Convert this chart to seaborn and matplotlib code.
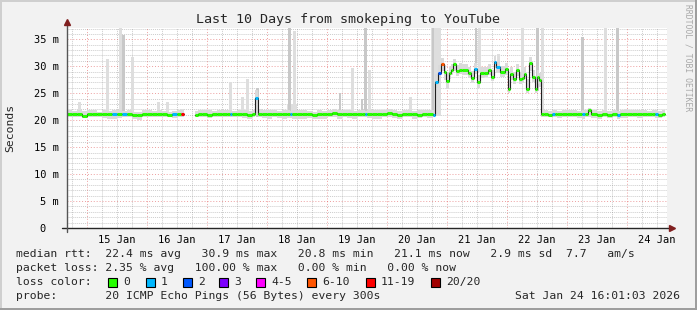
import numpy as np
import pandas as pd
import matplotlib
matplotlib.use("Agg")
import matplotlib.pyplot as plt
import seaborn as sns
from matplotlib.patches import Rectangle

nan = float("nan")

# ---------------- data ----------------
day_labels = ["15 Jan", "16 Jan", "17 Jan", "18 Jan", "19 Jan",
              "20 Jan", "21 Jan", "22 Jan", "23 Jan", "24 Jan"]
y_labels = ["0  ", "5 m", "10 m", "15 m", "20 m", "25 m", "30 m", "35 m"]
loss_labels = ["0", "1", "2", "3", "4-5", "6-10", "11-19", "20/20"]

# hours since 14 Jan 16:01, median rtt (ms), loss class index
med_t = [0, 2, 4, 6, 8, 10, 12, 14, 16, 18, 20, 22, 24, 26, 28, 30, 32, 34, 36, 38, 40, 42, 44, 45.6, 46.8,
         51.2, 52.4, 54, 56, 58, 60, 62, 64, 65.2, 66, 68, 70, 72, 74, 75.2, 76.4, 78, 80, 82, 84,
         86, 88, 89.2, 90, 92, 94, 96, 98, 100, 102, 104, 106, 108, 110, 112, 114, 116, 118, 119.2, 120,
         122, 124, 126, 128, 130, 132, 134, 136, 138, 140, 142, 144,
         146.4, 147.2, 148.4, 149.6, 150.8, 151.6, 152.8, 153.6, 154.4, 155.6,
         156.8, 158.0, 160.4, 161.6, 162.8, 164.0, 165.2, 166.8, 168.4, 169.6,
         170.8, 171.6, 173.2, 175.2, 176.4, 177.2, 178.4, 179.6, 180.8, 182.0,
         182.8, 183.6, 184.8, 186.0, 187.2, 188.0, 188.8, 189.6,
         190.8, 192.4, 194, 195.2, 196, 198, 200, 202, 204, 206,
         207.2, 208.4, 209.6, 212, 214, 216, 218, 220, 221.2, 224,
         226, 228, 230, 232, 234, 235.2, 236.4, 238, 239]
med_v = [21.2, 21.1, 21.1, 20.8, 21.1, 21.2, 21.2, 21.1, 21.2, 21.2, 21.1, 21.1, 21.2, 21.0, 20.9, 21.1, 21.1,
         21.2, 21.1, 21.1, 21.0, 21.1, 21.1, 21.1, nan,
         20.9, 21.1, 21.2, 21.0, 21.1, 21.2, 21.1, 21.1, 21.1, 21.1, 21.2, 21.1, 21.0, 21.1, 24.1, 21.2, 21.1,
         21.1, 21.2, 21.1, 21.1, 21.1, 21.1, 21.1, 21.2, 21.1, 21.1, 21.0, 21.1, 21.1, 21.2, 21.4, 21.1, 21.1,
         21.2, 21.1, 21.1, 21.1, 21.1, 21.1, 21.1, 21.2, 21.2, 21.3, 21.2, 21.0, 21.1, 21.1, 21.1, 21.0,
         21.1, 21.1,
         21.0, 27.0, 28.8, 30.5, 28.9, 27.3, 28.7, 29.3, 30.4, 29.1,
         29.4, 29.3, 28.7, 27.8, 29.5, 27.0, 28.7, 28.8, 29.3, 28.0,
         30.8, 29.8, 29.0, 29.5, 25.7, 28.6, 27.6, 29.3, 27.7, 27.8,
         28.6, 25.7, 30.6, 28.1, 25.8, 28.0, 27.4, 21.1,
         21.1, 21.0, 21.1, 21.1, 21.1, 21.1, 21.2, 21.1, 21.1, 21.1,
         21.1, 21.8, 21.1, 21.0, 21.1, 21.0, 21.1, 21.0, 21.1, 21.1,
         21.2, 21.1, 21.1, 21.1, 21.1, 21.1, 21.0, 21.1, nan]
med_loss = [0, 0, 0, 0, 0, 0, 0, 0, 0, 1, 0, 1, 0, 0, 0, 0, 0, 0, 0, 0, 0, 1, 0, 6, 0,
            0, 0, 0, 0, 0, 0, 0, 0, 1, 0, 0, 0, 0, 0, 1, 0, 0, 0, 0, 0,
            0, 0, 1, 0, 0, 0, 0, 0, 0, 0, 0, 0, 0, 0, 0, 0, 0, 0, 1, 0,
            0, 0, 0, 0, 0, 0, 0, 0, 0, 0, 0, 0,
            1, 1, 2, 5, 0, 0, 0, 0, 0, 0,
            0, 0, 0, 0, 1, 0, 0, 0, 0, 0,
            1, 1, 0, 0, 0, 0, 0, 0, 0, 0,
            0, 0, 0, 0, 0, 0, 0, 0,
            0, 0, 1, 0, 0, 0, 0, 0, 0, 1,
            0, 0, 0, 0, 0, 0, 0, 1, 0, 0,
            0, 0, 0, 0, 0, 1, 0, 0, 0]
smoke_lo = [20.6, 20.5, 20.6, 20.4, 20.6, 20.6, 20.5, 20.4, 20.3, 20.2, 20.4, 20.5, 20.6, 20.2, 20.1, 20.5, 20.6,
            20.5, 20.6, 20.5, 20.5, 20.4, 20.5, 20.6, nan,
            20.6, 20.5, 20.6, 20.4, 20.5, 20.6, 20.5, 20.6, 20.5, 20.6, 20.5, 20.4, 20.3, 20.5, 21.0, 20.5, 20.4,
            20.2, 20.5, 20.4, 20.3, 20.5, 20.4, 20.3, 20.2, 20.2, 20.4, 20.3, 20.2, 20.3, 20.5, 20.6, 20.3, 20.5,
            20.4, 20.3, 20.5, 20.6, 20.5, 20.4, 20.2, 20.3, 20.5, 20.6, 20.4, 20.3, 20.5, 20.5, 20.3, 20.4,
            20.5, 20.4,
            20.5, 26.0, 27.8, 29.2, 27.5, 25.8, 27.6, 28.3, 29.2, 28.2,
            28.5, 28.4, 27.9, 26.9, 28.6, 26.0, 27.8, 28.0, 28.4, 27.2,
            29.6, 28.8, 28.1, 28.4, 25.0, 27.5, 26.7, 28.2, 26.8, 26.9,
            27.6, 25.0, 29.2, 27.0, 25.0, 26.8, 26.2, 20.5,
            20.6, 20.5, 20.6, 20.5, 20.4, 20.5, 20.6, 20.5, 20.4, 20.3,
            20.5, 20.6, 20.4, 20.3, 20.5, 20.4, 20.5, 20.3, 20.4, 20.5,
            20.5, 20.4, 20.5, 20.6, 20.5, 20.4, 20.4, 20.5, nan]
smoke_hi = [21.8, 21.7, 21.9, 21.7, 21.8, 21.8, 21.6, 21.8, 21.7, 21.8, 21.9, 21.7, 21.8, 21.6, 21.6, 21.8, 21.9,
            21.7, 21.8, 21.7, 21.6, 21.7, 21.8, 21.9, nan,
            21.7, 21.8, 21.9, 21.8, 21.7, 21.8, 21.8, 21.9, 21.8, 21.7, 21.9, 21.8, 21.7, 21.8, 25.6, 22.0, 21.8,
            21.9, 21.8, 21.7, 21.8, 21.9, 21.7, 21.8, 21.9, 21.8, 21.7, 21.6, 21.8, 21.7, 21.9, 22.0, 21.8, 21.8,
            21.9, 21.7, 21.8, 21.8, 21.7, 21.8, 21.9, 21.8, 21.9, 22.0, 21.9, 21.7, 21.8, 21.8, 21.7, 21.8,
            21.8, 21.9,
            21.8, 28.5, 30.2, 31.5, 30.2, 28.9, 29.8, 30.4, 31.4, 30.2,
            30.6, 30.5, 29.8, 29.2, 30.7, 28.4, 29.8, 29.9, 30.4, 29.4,
            31.9, 31.0, 30.1, 30.6, 27.4, 29.8, 28.9, 30.5, 29.0, 29.1,
            29.8, 27.6, 31.8, 29.4, 27.7, 29.3, 28.7, 22.0,
            21.8, 21.7, 21.8, 21.8, 21.7, 21.8, 21.9, 21.8, 21.7, 21.8,
            21.8, 22.2, 21.8, 21.7, 21.8, 21.7, 21.8, 21.7, 21.8, 21.8,
            21.9, 21.8, 21.8, 21.7, 21.8, 21.8, 21.7, 21.8, nan]

# outlier ping "smoke" spikes
spike_t = [4.4, 9.6, 15.6, 20.8, 22.0, 25.6, 36.0, 39.6, 45.6, 64.8, 69.6, 71.6, 75.6, 88.0, 88.4, 90.4,
           108.8, 113.6, 117.6, 118.8, 120.4, 136.8, 145.6, 146.0, 163.0, 164.4, 172.0, 181.6, 187.6, 189.6,
           205.6, 214.8, 219.6, 222.8]
spike_w = [1.2, 1.6, 1.2, 1.2, 1.0, 1.2, 1.2, 1.2, 1.2, 1.2, 1.2, 1.2, 1.2, 4.0, 1.2, 1.2,
           0.8, 1.2, 0.8, 1.2, 1.2, 1.2, 4.0, 0.8, 0.8, 1.2, 1.2, 1.2, 1.2, 1.2,
           1.2, 1.2, 1.2, 1.6]
spike_bot = [20.6, 20.6, 20.6, 20.6, 20.6, 20.6, 20.6, 20.6, 20.6, 20.6, 20.6, 20.6, 20.6, 20.4, 20.6, 20.6,
             20.6, 20.6, 20.6, 20.6, 20.6, 20.6, 20.8, 20.8, 29.2, 29.0, 29.5, 28.5, 25.5, 21.0,
             20.6, 20.6, 20.6, 20.6]
spike_top = [23.3, 21.9, 31.4, 37.5, 35.8, 31.7, 23.3, 23.3, 22.0, 27.0, 24.3, 27.6, 26.0, 23.0, 37.5, 36.5,
             25.0, 29.6, 24.0, 37.5, 29.3, 24.3, 37.5, 37.5, 37.5, 37.5, 32.2, 37.5, 37.5, 37.5,
             35.5, 37.5, 37.5, 22.0]
spike_dark = [0, 0, 0, 0, 1, 0, 0, 0, 0, 0, 0, 0, 1, 0, 1, 0,
              1, 0, 1, 1, 0, 0, 0, 1, 1, 0, 0, 0, 1, 0,
              1, 0, 1, 0]

# ---------------- style ----------------
sns.set_style("white")
MONO = ["DejaVu Sans Mono"]
plt.rcParams["font.family"] = MONO

loss_colors = ["#26ff00", "#00b8ff", "#0059ff", "#7e00ff", "#ff00ff", "#ff5500", "#ff0000", "#a10000"]
W, H = 697, 310
fig = plt.figure(figsize=(W / 100, H / 100), dpi=100, facecolor="#f2f2f2")
ax = fig.add_axes([67 / W, 1 - 228 / H, 600 / W, 200 / H])
ax.set_facecolor("white")
ax.set_xlim(0, 240)
ax.set_ylim(0, 37.1)
for s in ax.spines.values():
    s.set_visible(False)

# grid
midnights = [8 + 24 * k for k in range(10)]
minor_x = [h for h in range(2, 240, 6) if h not in midnights]
minor_y = [v for v in range(1, 38) if v % 5]
gcol = (0.56, 0.56, 0.56, 0.45)
mcol = (0.87, 0.31, 0.31, 0.55)
for h in minor_x:
    ax.axvline(h, color=gcol, lw=0.7, ls=(0, (1, 1)), zorder=0)
for v in minor_y:
    ax.axhline(v, color=gcol, lw=0.7, ls=(0, (1, 1)), zorder=0)
for h in midnights:
    ax.axvline(h, color=mcol, lw=0.7, ls=(0, (1, 2)), zorder=0.5)
for v in range(5, 36, 5):
    ax.axhline(v, color=mcol, lw=0.7, ls=(0, (1, 2)), zorder=0.5)

# data frame
df = pd.DataFrame(dict(t=med_t, v=med_v, loss=med_loss, lo=smoke_lo, hi=smoke_hi))
df["seg"] = df["v"].isna().shift(fill_value=False).cumsum()

# smoke spikes
sdf = pd.DataFrame(dict(t=spike_t, w=spike_w, b=spike_bot, top=spike_top, dark=spike_dark))
for dk, col in [(0, "#dedede"), (1, "#c8c8c8")]:
    part = sdf[sdf.dark == dk]
    ax.bar(part.t, part.top - part.b, bottom=part.b, width=part.w, align="edge",
           color=col, lw=0, zorder=1)

# build segments with end points
pieces = []
for sid, g in df.groupby("seg"):
    valid = g[g.v.notna()].copy()
    end = g[g.v.isna()]
    if len(end):
        last = valid.iloc[[-1]].copy()
        last["t"] = end.t.values[0]
        last["loss"] = -1
        valid = pd.concat([valid, last])
    pieces.append(valid)
seg_df = pd.concat(pieces, ignore_index=True)

for sid, g in seg_df.groupby("seg"):
    ax.fill_between(g.t, g.lo, g.hi, step="post", color="#dadada", lw=0, zorder=2)

sns.lineplot(data=seg_df, x="t", y="v", units="seg", estimator=None, sort=False,
             drawstyle="steps-post", color="#202020", lw=0.8, ax=ax, zorder=3, legend=False)

for sid, g in seg_df.groupby("seg"):
    tt = g.t.values
    vv = g.v.values
    ll = g.loss.values
    for i in range(len(tt) - 1):
        ax.hlines(vv[i], tt[i], tt[i + 1], colors=loss_colors[int(ll[i])], lw=2.2,
                  capstyle="butt", zorder=4)

# ticks
ax.set_xticks([20 + 24 * k for k in range(10)])
ax.set_xticklabels(day_labels)
ax.set_yticks(range(0, 36, 5))
ax.set_yticklabels(y_labels)
ax.tick_params(axis="both", length=0, labelsize=7.5, colors="black")
ax.tick_params(axis="y", pad=5.8)
ax.tick_params(axis="x", pad=5.0)
ax.set_xlabel("")
ax.set_ylabel("")

# axes lines and arrows
axc = "#262626"
arrow_c = (0.5, 0.12, 0.12)
ax.plot([-5 / 600, 1.008], [0, 0], color=axc, lw=1.0, transform=ax.transAxes, clip_on=False, zorder=6)
ax.plot([0, 0], [-4 / 200, 1.025], color="#555555", lw=1.0, transform=ax.transAxes, clip_on=False, zorder=6)
ax.plot([1.008], [0], marker=">", ms=4.5, color=arrow_c, mec=arrow_c, transform=ax.transAxes,
        clip_on=False, zorder=7)
ax.plot([0], [1.028], marker="^", ms=4.5, color=arrow_c, mec=arrow_c, transform=ax.transAxes,
        clip_on=False, zorder=7)

# texts
def ft(x, y, s, **kw):
    fig.text(x / W, 1 - y / H, s, **kw)

ft(348, 19, "Last 10 Days from smokeping to YouTube", ha="center", va="center", fontsize=9.6)
ft(10, 128, "Seconds", ha="center", va="center", rotation=90, fontsize=8.2)
ft(688, 58, "RRDTOOL / TOBI OETIKER", ha="center", va="center", rotation=270, fontsize=5.8,
   color="#a8a8a8")

LF = 8.2
ft(16, 254, "median rtt:  22.4 ms avg   30.9 ms max   20.8 ms min   21.1 ms now   2.9 ms sd  7.7   am/s",
   va="center", fontsize=LF)
ft(16, 268, "packet loss: 2.35 % avg   100.00 % max   0.00 % min   0.00 % now", va="center", fontsize=LF)
ft(16, 282, "loss color:", va="center", fontsize=LF)
ft(16, 296, "probe:       20 ICMP Echo Pings (56 Bytes) every 300s", va="center", fontsize=LF)
ft(680, 296, "Sat Jan 24 16:01:03 2026", ha="right", va="center", fontsize=LF)

box_x = [108, 146, 183, 219, 256, 307, 366, 431]
for bx, lab, col in zip(box_x, loss_labels, loss_colors):
    fig.add_artist(Rectangle((bx / W, 1 - 287 / H), 9 / W, 9 / H, transform=fig.transFigure,
                             facecolor=col, edgecolor="black", lw=0.8))
    ft(bx + 15, 282, lab, va="center", fontsize=LF)

# 3D frame
fig.add_artist(Rectangle((0, 1 - 2 / H), 1, 2 / H, transform=fig.transFigure, facecolor="#cfcfcf", lw=0))
fig.add_artist(Rectangle((0, 0), 2 / W, 1, transform=fig.transFigure, facecolor="#cfcfcf", lw=0))
fig.add_artist(Rectangle((0, 0), 1, 2 / H, transform=fig.transFigure, facecolor="#9e9e9e", lw=0))
fig.add_artist(Rectangle((1 - 2 / W, 0), 2 / W, 1, transform=fig.transFigure, facecolor="#9e9e9e", lw=0))

fig.savefig("out.png", dpi=100, facecolor=fig.get_facecolor())
